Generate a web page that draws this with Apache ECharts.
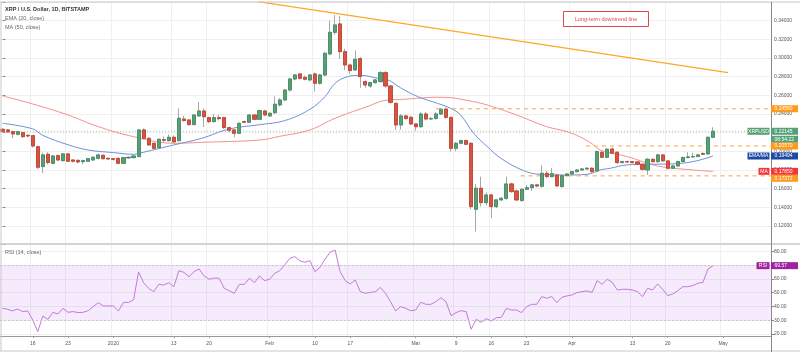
<!DOCTYPE html>
<html>
<head>
<meta charset="utf-8">
<script src="https://cdn.jsdelivr.net/npm/echarts@6/dist/echarts.min.js"></script>
<style>
  html, body { margin: 0; padding: 0; background: #fff; }
  #main { width: 800px; height: 352px; }
</style>
</head>
<body>
<div id="main"></div>
<script>
// daily XRP/USD candles, first one is 2019-12-10, last one 2020-04-29
const firstDay = '2019-12-10'
const dayCount = 153

const tickDays = ['2019-12-16', '2019-12-23', '2020-01-01', '2020-01-13', '2020-01-20', '2020-02-01', '2020-02-10',
  '2020-02-17', '2020-03-01', '2020-03-09', '2020-03-16', '2020-03-23', '2020-04-01', '2020-04-13', '2020-04-20', '2020-05-01']
const tickLabels = ['16', '23', '2020', '13', '20', 'Feb', '10', '17', 'Mar', '9', '16', '23', 'Apr', '13', '20', 'May']

// [open, close, low, high]
const candles = [
  [0.2236, 0.2214, 0.2205, 0.2245], [0.2229, 0.2207, 0.2200, 0.2236], [0.2211, 0.2186, 0.2140, 0.2222], [0.2182, 0.2211, 0.2170, 0.2220],
  [0.2200, 0.2157, 0.2145, 0.2211], [0.2171, 0.2164, 0.2150, 0.2180], [0.2168, 0.2057, 0.2040, 0.2175], [0.2050, 0.1829, 0.1810, 0.2060],
  [0.1836, 0.1961, 0.1765, 0.1985], [0.1968, 0.1879, 0.1860, 0.1990], [0.1871, 0.1950, 0.1860, 0.1960], [0.1954, 0.1907, 0.1895, 0.1965],
  [0.1900, 0.1972, 0.1890, 0.1980], [0.1972, 0.1893, 0.1885, 0.1980], [0.1907, 0.1893, 0.1880, 0.1915], [0.1903, 0.1886, 0.1870, 0.1912],
  [0.1889, 0.1900, 0.1860, 0.1910], [0.1893, 0.1921, 0.1885, 0.1930], [0.1907, 0.1936, 0.1900, 0.1945], [0.1925, 0.1961, 0.1915, 0.1975],
  [0.1957, 0.1921, 0.1912, 0.1965], [0.1925, 0.1918, 0.1905, 0.1930], [0.1921, 0.1914, 0.1900, 0.1928], [0.1925, 0.1871, 0.1860, 0.1930],
  [0.1871, 0.1932, 0.1865, 0.1940], [0.1929, 0.1936, 0.1920, 0.1945], [0.1932, 0.1950, 0.1925, 0.1958], [0.1943, 0.2229, 0.1940, 0.2236],
  [0.2229, 0.2139, 0.2125, 0.2245], [0.2139, 0.2068, 0.2060, 0.2150], [0.2086, 0.2032, 0.2020, 0.2095], [0.2039, 0.2129, 0.2030, 0.2135],
  [0.2125, 0.2118, 0.2100, 0.2160], [0.2114, 0.2150, 0.2105, 0.2180], [0.2150, 0.2100, 0.2090, 0.2170], [0.2114, 0.2354, 0.2105, 0.2460],
  [0.2346, 0.2329, 0.2320, 0.2380], [0.2336, 0.2286, 0.2275, 0.2345], [0.2286, 0.2389, 0.2280, 0.2400], [0.2379, 0.2432, 0.2370, 0.2530],
  [0.2432, 0.2371, 0.2260, 0.2460], [0.2361, 0.2318, 0.2300, 0.2370], [0.2318, 0.2361, 0.2310, 0.2400], [0.2361, 0.2350, 0.2330, 0.2390],
  [0.2361, 0.2254, 0.2240, 0.2370], [0.2254, 0.2225, 0.2205, 0.2265], [0.2229, 0.2193, 0.2150, 0.2240], [0.2193, 0.2300, 0.2185, 0.2310],
  [0.2318, 0.2311, 0.2300, 0.2330], [0.2311, 0.2389, 0.2300, 0.2400], [0.2389, 0.2343, 0.2335, 0.2395], [0.2343, 0.2436, 0.2335, 0.2445],
  [0.2432, 0.2389, 0.2380, 0.2445], [0.2379, 0.2407, 0.2370, 0.2420], [0.2414, 0.2504, 0.2400, 0.2590], [0.2497, 0.2550, 0.2480, 0.2570],
  [0.2550, 0.2657, 0.2540, 0.2670], [0.2657, 0.2775, 0.2640, 0.2790], [0.2775, 0.2818, 0.2760, 0.2830], [0.2829, 0.2782, 0.2770, 0.2840],
  [0.2793, 0.2772, 0.2760, 0.2810], [0.2765, 0.2818, 0.2750, 0.2830], [0.2829, 0.2729, 0.2640, 0.2845], [0.2729, 0.2818, 0.2715, 0.2830],
  [0.2818, 0.3050, 0.2800, 0.3065], [0.3043, 0.3275, 0.3030, 0.3400], [0.3275, 0.3354, 0.3250, 0.3461], [0.3365, 0.3068, 0.2990, 0.3450],
  [0.3068, 0.2925, 0.2870, 0.3100], [0.2925, 0.2865, 0.2830, 0.2940], [0.2872, 0.2986, 0.2860, 0.3080], [0.2993, 0.2800, 0.2680, 0.3010],
  [0.2747, 0.2711, 0.2680, 0.2760], [0.2700, 0.2736, 0.2680, 0.2745], [0.2736, 0.2765, 0.2725, 0.2775], [0.2747, 0.2843, 0.2735, 0.2860],
  [0.2843, 0.2700, 0.2680, 0.2860], [0.2700, 0.2525, 0.2510, 0.2710], [0.2514, 0.2282, 0.2229, 0.2525], [0.2282, 0.2379, 0.2230, 0.2400],
  [0.2379, 0.2350, 0.2340, 0.2390], [0.2364, 0.2293, 0.2280, 0.2380], [0.2293, 0.2264, 0.2220, 0.2300], [0.2264, 0.2400, 0.2250, 0.2420],
  [0.2400, 0.2346, 0.2330, 0.2420], [0.2346, 0.2352, 0.2335, 0.2365], [0.2352, 0.2400, 0.2340, 0.2420], [0.2400, 0.2450, 0.2390, 0.2465],
  [0.2450, 0.2364, 0.2350, 0.2470], [0.2364, 0.2032, 0.1996, 0.2370], [0.2032, 0.2086, 0.2000, 0.2100], [0.2086, 0.2115, 0.2075, 0.2125],
  [0.2115, 0.2075, 0.2065, 0.2125], [0.2086, 0.1407, 0.1380, 0.2095], [0.1379, 0.1604, 0.1140, 0.1650], [0.1604, 0.1450, 0.1410, 0.1728],
  [0.1450, 0.1532, 0.1420, 0.1560], [0.1532, 0.1407, 0.1282, 0.1545], [0.1407, 0.1479, 0.1390, 0.1490], [0.1479, 0.1496, 0.1470, 0.1510],
  [0.1496, 0.1650, 0.1480, 0.1730], [0.1650, 0.1568, 0.1555, 0.1665], [0.1575, 0.1479, 0.1465, 0.1590], [0.1472, 0.1593, 0.1460, 0.1600],
  [0.1593, 0.1610, 0.1585, 0.1640], [0.1610, 0.1640, 0.1575, 0.1650], [0.1640, 0.1628, 0.1615, 0.1650], [0.1625, 0.1764, 0.1610, 0.1850],
  [0.1764, 0.1729, 0.1715, 0.1790], [0.1729, 0.1760, 0.1720, 0.1820], [0.1746, 0.1629, 0.1620, 0.1760], [0.1622, 0.1739, 0.1610, 0.1750],
  [0.1739, 0.1757, 0.1730, 0.1765], [0.1757, 0.1782, 0.1745, 0.1790], [0.1782, 0.1800, 0.1772, 0.1810], [0.1800, 0.1811, 0.1790, 0.1820],
  [0.1811, 0.1818, 0.1800, 0.1830], [0.1818, 0.1782, 0.1770, 0.1830], [0.1789, 0.1997, 0.1780, 0.2010], [0.1990, 0.1936, 0.1925, 0.2000],
  [0.1936, 0.2022, 0.1925, 0.2035], [0.2025, 0.1979, 0.1970, 0.2040], [0.1990, 0.1879, 0.1865, 0.2000], [0.1879, 0.1889, 0.1870, 0.1900],
  [0.1889, 0.1886, 0.1875, 0.1900], [0.1889, 0.1879, 0.1870, 0.1895], [0.1886, 0.1861, 0.1850, 0.1895], [0.1861, 0.1807, 0.1790, 0.1870],
  [0.1800, 0.1914, 0.1747, 0.1930], [0.1914, 0.1889, 0.1880, 0.1925], [0.1889, 0.1961, 0.1880, 0.1975], [0.1961, 0.1897, 0.1890, 0.1970],
  [0.1897, 0.1818, 0.1805, 0.1905], [0.1818, 0.1843, 0.1810, 0.1855], [0.1843, 0.1890, 0.1835, 0.1900], [0.1890, 0.1933, 0.1880, 0.1945],
  [0.1933, 0.1940, 0.1925, 0.1990], [0.1940, 0.1944, 0.1935, 0.1985], [0.1944, 0.1961, 0.1940, 0.1975], [0.1975, 0.1968, 0.1960, 0.1990],
  [0.1972, 0.2150, 0.1965, 0.2160], [0.2150, 0.22145, 0.2140, 0.2258]
]

// EMA 20 and MA 50 as [day index, value]
const ema20 = [[0, 0.2300], [6, 0.2240], [8, 0.2170], [13, 0.2070], [17, 0.2014], [22, 0.1986], [26, 0.1968], [28, 0.1990],
  [34, 0.2068], [39.5, 0.2139], [45, 0.2239], [51, 0.2285], [56, 0.2329], [61, 0.2450], [64, 0.2586], [66, 0.2729],
  [68.5, 0.2800], [71, 0.2814], [74.5, 0.2782], [76.5, 0.2764], [79, 0.2680], [82.4, 0.2586], [86.3, 0.2514], [88.9, 0.2461],
  [90.9, 0.2389], [93.5, 0.2193], [96.2, 0.2050], [98.9, 0.1925], [103.4, 0.1793], [106.7, 0.1753], [112, 0.1746], [116, 0.1753],
  [118.6, 0.1800], [120.6, 0.1818], [123.9, 0.1854], [127.9, 0.1861], [132.4, 0.1864], [137, 0.1889], [141, 0.19494]]
const ma50 = [[0, 0.2593], [6, 0.2507], [13, 0.2389], [19, 0.2264], [26, 0.2157], [34, 0.2086], [39.5, 0.2096], [51, 0.2121],
  [55, 0.2160], [61, 0.2229], [66, 0.2354], [72, 0.2471], [76.5, 0.2550], [79, 0.2555], [82.4, 0.2568], [86, 0.2579],
  [89, 0.2575], [91, 0.2557], [95.5, 0.2507], [102, 0.2389], [108, 0.2264], [112, 0.2211], [114.5, 0.2157], [117, 0.2080],
  [118.6, 0.2014], [124, 0.1943], [130, 0.1843], [137, 0.1800], [141, 0.1785]]

const rsi = [38.6, 37.9, 36.7, 38.1, 36.2, 36.7, 30.1, 21.7, 33.0, 30.6, 35.7, 34.5, 38.6, 35.7, 36.2, 35.5, 35.7, 36.9, 39.8, 42.7,
  40.3, 40.3, 40.3, 36.7, 42.9, 42.9, 44.7, 65.0, 57.2, 53.1, 50.7, 56.0, 55.5, 57.2, 54.3, 65.9, 64.7, 61.6, 65.2, 67.2,
  62.1, 59.7, 60.6, 60.4, 53.1, 51.4, 49.5, 56.0, 56.0, 60.4, 57.2, 62.1, 58.7, 59.7, 64.0, 65.9, 70.1, 74.9, 76.1, 73.2,
  72.0, 73.2, 65.2, 68.4, 74.2, 79.3, 80.9, 65.2, 58.7, 56.3, 59.2, 50.7, 49.5, 50.2, 50.7, 53.8, 49.5, 43.4, 36.7, 39.8,
  38.6, 36.9, 37.4, 43.0, 41.5, 41.5, 43.4, 46.3, 43.4, 33.3, 35.5, 36.9, 36.2, 23.4, 30.6, 28.4, 31.1, 29.4, 31.8, 32.1,
  38.6, 37.4, 37.4, 35.5, 39.8, 41.5, 41.5, 47.1, 45.9, 47.1, 42.7, 46.6, 47.6, 48.3, 50.0, 50.7, 51.2, 50.2, 58.7, 56.0,
  59.7, 57.5, 51.9, 52.4, 52.4, 51.9, 50.7, 47.1, 53.1, 51.9, 56.3, 52.4, 47.8, 49.0, 51.4, 54.3, 54.3, 55.1, 56.8, 57.5,
  67.2, 69.57]

// drawn levels: [first day index, price]
const trendLine = [[50.7, 0.3603], [144, 0.2843]]
const levels = [[86, 0.24560], [115.8, 0.20570], [102.8, 0.17372]]

const days = []
for (let d = new Date(firstDay + 'T00:00:00Z'), k = 0; k < dayCount; k++, d.setUTCDate(d.getUTCDate() + 1)) {
  days.push(d.toISOString().slice(0, 10))
}
const tickSet = new Set(tickDays)
const isTick = (i) => tickSet.has(days[i])
const lastIdx = dayCount - 0.5

const font = '"Liberation Sans", Arial, sans-serif'
const green = '#56a078', red = '#d9533f', orange = '#ff9a1f'
const grid = '#efefef'

const bodies = candles.map(([o, c]) => [o, c, Math.min(o, c), Math.max(o, c)])

const chart = echarts.init(document.getElementById('main'))
chart.setOption({
  animation: false,
  backgroundColor: '#fff',
  grid: [
    { left: -2, right: 29, top: 2, height: 242.6 },
    { left: -2, right: 29, top: 244, bottom: 16 },
  ],
  xAxis: [
    { type: 'category', gridIndex: 0, data: days, boundaryGap: true,
      axisLine: { show: false }, axisTick: { show: false }, axisLabel: { show: false },
      splitLine: { show: true, interval: isTick, lineStyle: { color: grid } } },
    { type: 'category', gridIndex: 1, data: days, boundaryGap: true,
      axisLine: { show: true, lineStyle: { color: '#9a9a9a' } },
      axisTick: { show: true, alignWithLabel: true, interval: isTick, length: 2, lineStyle: { color: '#9a9a9a' } },
      axisLabel: { interval: isTick, formatter: (v) => tickLabels[tickDays.indexOf(v)], fontSize: 5, color: '#555', margin: 5, fontFamily: font },
      splitLine: { show: true, interval: isTick, lineStyle: { color: grid } } },
    { type: 'value', gridIndex: 0, min: -0.5, max: lastIdx, show: false },
  ],
  yAxis: [
    { type: 'value', gridIndex: 0, position: 'right', min: 0.10, max: 0.36, interval: 0.02,
      axisLine: { show: false },
      axisTick: { show: true, length: 3, lineStyle: { color: '#888' } },
      axisLabel: { fontSize: 5, color: '#555', margin: 3, fontFamily: font,
        formatter: (v) => (v < 0.11 || v > 0.35) ? '' : v.toFixed(5) },
      splitLine: { lineStyle: { color: grid } } },
    { type: 'value', gridIndex: 1, position: 'right', min: 18.5, max: 85.3, splitNumber: 7,
      axisLine: { show: false },
      axisTick: { show: true, length: 3, lineStyle: { color: '#888' } },
      axisLabel: { fontSize: 5, color: '#555', margin: 3, fontFamily: font, showMinLabel: false, showMaxLabel: false,
        formatter: (v) => v.toFixed(2) },
      splitLine: { lineStyle: { color: grid } } },
  ],
  series: [
    { type: 'line', xAxisIndex: 2, yAxisIndex: 0, data: ma50, smooth: 0.4, symbol: 'none',
      lineStyle: { color: '#f4908c', width: 1 }, z: 2 },
    { type: 'line', xAxisIndex: 2, yAxisIndex: 0, data: ema20, smooth: 0.4, symbol: 'none',
      lineStyle: { color: '#6f90d8', width: 1 }, z: 2 },
    { type: 'line', xAxisIndex: 2, yAxisIndex: 0, data: [[-0.5, candles[candles.length - 1][1]], [lastIdx, candles[candles.length - 1][1]]],
      symbol: 'none', lineStyle: { color: '#a8c4b4', width: 1, type: [1, 2] }, z: 1 },
    ...levels.map(([i, v]) => ({ type: 'line', xAxisIndex: 2, yAxisIndex: 0, data: [[i, v], [lastIdx, v]], symbol: 'none',
      lineStyle: { color: '#ffb066', width: 1.2, type: [4, 4] }, z: 2 })),
    { type: 'line', xAxisIndex: 2, yAxisIndex: 0, data: trendLine, symbol: 'none',
      lineStyle: { color: '#ffa726', width: 1.3 }, z: 3 },
    { type: 'candlestick', xAxisIndex: 0, yAxisIndex: 0, data: candles, barWidth: 3.6,
      itemStyle: { color: '#a0a0a0', color0: '#a0a0a0', borderColor: '#a8a8a8', borderColor0: '#a8a8a8', borderWidth: 1 }, z: 4 },
    { type: 'candlestick', xAxisIndex: 0, yAxisIndex: 0, data: bodies, barWidth: 3.6,
      itemStyle: { color: green, color0: red, borderColor: '#3f8a60', borderColor0: '#c0402f', borderWidth: 0.8 }, z: 5 },
    { type: 'line', xAxisIndex: 1, yAxisIndex: 1, data: rsi, symbol: 'none',
      lineStyle: { color: '#c47ad8', width: 1 }, z: 3,
      markArea: { silent: true, itemStyle: { color: 'rgba(190,130,240,0.16)' }, data: [[{ yAxis: 30 }, { yAxis: 70 }]] },
      markLine: { silent: true, symbol: 'none', label: { show: false },
        lineStyle: { color: '#c8c8c8', type: [2, 2], width: 1 }, data: [{ yAxis: 30 }, { yAxis: 70 }] } },
  ],
})

// frame, legends and price badges
const right = chart.convertToPixel({ xAxisIndex: 2 }, lastIdx)
const py = (v) => chart.convertToPixel({ yAxisIndex: 0 }, v)
const ry = (v) => chart.convertToPixel({ yAxisIndex: 1 }, v)
const txt = (x, y, text, fill, size, weight, align) => ({ type: 'text', z: 20, x, y,
  style: { text, fill, font: `${weight || 'normal'} ${size}px ${font}`, textAlign: align || 'left', textVerticalAlign: 'middle' } })
const box = (x, y, w, h, fill) => ({ type: 'rect', z: 19, shape: { x, y, width: w, height: h }, style: { fill } })
const badge = (cy, value, color, label, labelW) => {
  const out = [box(right, cy - 3.5, 27, 7, color), txt(right + 3.5, cy, value, '#fff', 5)]
  if (label) out.push(box(right - 1.5 - labelW, cy - 3.5, labelW, 7, color), txt(right - 1.5 - labelW / 2, cy, label, '#fff', 5, 'normal', 'center'))
  return out
}
const last = candles[candles.length - 1][1]
const lastEma = ema20[ema20.length - 1][1]
const lastMa = ma50[ma50.length - 1][1]
const lastRsi = rsi[rsi.length - 1]

chart.setOption({
  graphic: [
    { type: 'line', z: 18, shape: { x1: 0, y1: 2, x2: 800, y2: 2 }, style: { stroke: '#c8c8c8', lineWidth: 1 } },
    { type: 'line', z: 18, shape: { x1: 1, y1: 2, x2: 1, y2: 351 }, style: { stroke: '#c8c8c8', lineWidth: 1 } },
    { type: 'line', z: 18, shape: { x1: 0, y1: 244, x2: 800, y2: 244 }, style: { stroke: '#c8c8c8', lineWidth: 1.5 } },
    { type: 'line', z: 18, shape: { x1: 0, y1: 351, x2: 800, y2: 351 }, style: { stroke: '#c8c8c8', lineWidth: 1 } },
    { type: 'line', z: 18, shape: { x1: right + 0.5, y1: 2, x2: right + 0.5, y2: 352 }, style: { stroke: '#888', lineWidth: 1 } },
    txt(5, 9, 'XRP / U.S. Dollar, 1D, BITSTAMP', '#333', 5.5, 'bold'),
    txt(5, 18, 'EMA (20, close)', '#666', 5.5),
    txt(5, 27, 'MA (50, close)', '#666', 5.5),
    txt(5, 252.5, 'RSI (14, close)', '#666', 5.5),
    { type: 'rect', z: 19, shape: { x: 563.5, y: 11.5, width: 85, height: 15 }, style: { fill: '#fff', stroke: '#e04848', lineWidth: 1 } },
    txt(606, 19, 'Long-term downtrend line', '#e04848', 5.5, 'normal', 'center'),
    ...badge(py(levels[0][1]), levels[0][1].toFixed(5), orange),
    ...badge(py(last), last.toFixed(5), green, 'XRPUSD', 22),
    box(right, py(last) + 4.5, 27, 7, green), txt(right + 3.5, py(last) + 8, '08:54:22', '#fff', 5),
    ...badge(py(levels[1][1]), levels[1][1].toFixed(5), orange),
    ...badge(py(lastEma), lastEma.toFixed(5), '#1c4aa3', 'EMA/MA', 22),
    ...badge(py(lastMa), lastMa.toFixed(5), '#f0393f', 'MA', 11),
    ...badge(py(levels[2][1]) + 2.5, levels[2][1].toFixed(5), orange),
    ...badge(ry(lastRsi), lastRsi.toFixed(2), '#a0239f', 'RSI', 13),
  ],
})
</script>
</body>
</html>
